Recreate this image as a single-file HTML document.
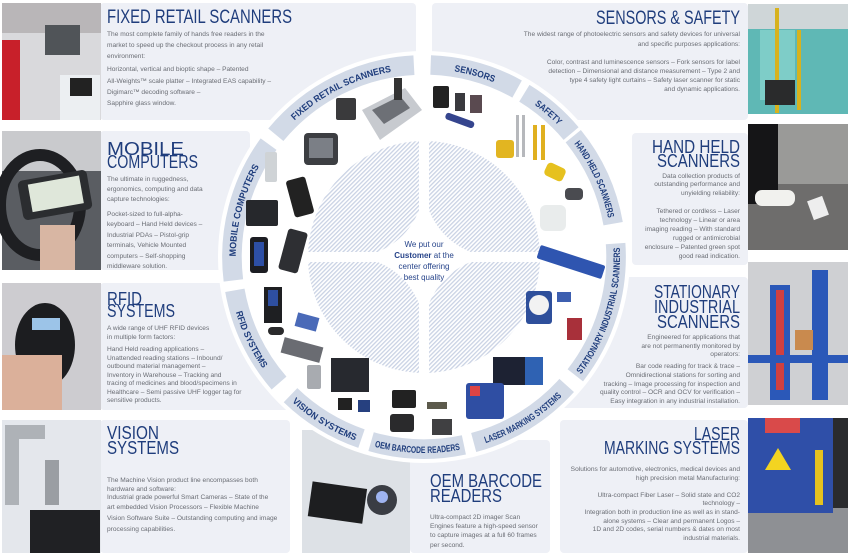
<!DOCTYPE html>
<html><head><meta charset="utf-8"><style>
html,body{margin:0;padding:0;background:#fff;}
svg{display:block;}
.t{font-family:"Liberation Sans",sans-serif;fill:#1f3d7c;}
.b{font-family:"Liberation Sans",sans-serif;fill:#6a6d74;font-size:6.6px;}
.bl{font-family:"Liberation Sans",sans-serif;fill:#1f3d7c;font-weight:bold;font-size:9.5px;}
</style></head><body>
<svg width="850" height="557" viewBox="0 0 850 557" xmlns="http://www.w3.org/2000/svg">
<defs>
<pattern id="h" width="3" height="3" patternUnits="userSpaceOnUse" patternTransform="rotate(45)">
<rect width="3" height="3" fill="#fff"/><rect width="1.3" height="3" fill="#c9d2e4"/></pattern>
<path id="p1" d="M233.4,280.4 A192,192 0 0 1 268.7,144.1"/>
<path id="p2" d="M275.9,134.9 A192,192 0 0 1 414.0,65.3"/>
<path id="p3" d="M430.7,65.1 A192,192 0 0 1 517.1,89.1"/>
<path id="p4" d="M524.3,93.3 A192,192 0 0 1 571.1,133.6"/>
<path id="p5" d="M573.2,136.2 A192,192 0 0 1 613.1,223.7"/>
<path id="p6" d="M581.6,380.1 A200,200 0 0 0 623.5,243.0"/>
<path id="p7" d="M475.8,450.2 A200,200 0 0 0 572.6,390.8"/>
<path id="p8" d="M368.9,449.3 A200,200 0 0 0 465.6,452.6"/>
<path id="p9" d="M285.1,400.9 A200,200 0 0 0 358.9,446.1"/>
<path id="p10" d="M227,291.7 A200,200 0 0 0 273.1,388.2"/>
</defs>

<g fill="#eef0f6">
<rect x="100" y="3" width="316" height="117" rx="4"/>
<rect x="432" y="3" width="316" height="117" rx="4"/>
<rect x="100" y="131" width="150" height="139" rx="4"/>
<rect x="632" y="133" width="116" height="132" rx="4"/>
<rect x="100" y="283" width="190" height="127" rx="4"/>
<rect x="560" y="277" width="188" height="131" rx="4"/>
<rect x="100" y="420" width="190" height="133" rx="4"/>
<rect x="410" y="440" width="140" height="113" rx="4"/>
<rect x="560" y="420" width="188" height="133" rx="4"/>
</g>

<rect x="2" y="3" width="99" height="117" fill="#d9d9dc"/>
<rect x="2" y="3" width="99" height="30" fill="#b9b6b8"/>
<rect x="2" y="40" width="18" height="80" fill="#c8202a"/>
<rect x="45" y="25" width="35" height="30" fill="#505458"/>
<rect x="60" y="75" width="40" height="45" fill="#eceff2"/>
<rect x="70" y="78" width="22" height="18" fill="#222"/>
<rect x="2" y="131" width="99" height="139" fill="#5a5d62"/>
<rect x="2" y="131" width="99" height="40" fill="#c9cacd"/>
<ellipse cx="40" cy="205" rx="40" ry="50" fill="none" stroke="#1e1f22" stroke-width="12"/>
<rect x="20" y="175" width="70" height="40" rx="5" fill="#2b2d30" transform="rotate(-10 55 195)"/>
<rect x="30" y="180" width="52" height="28" fill="#dfe7da" transform="rotate(-10 55 195)"/>
<rect x="40" y="225" width="35" height="45" fill="#d8b6a3"/>
<rect x="2" y="283" width="99" height="127" fill="#cdccd0"/>
<ellipse cx="45" cy="345" rx="30" ry="42" fill="#1c1d20"/>
<rect x="32" y="318" width="28" height="12" fill="#9cc4e8"/>
<rect x="2" y="355" width="60" height="55" fill="#dbb09a"/>
<rect x="2" y="420" width="99" height="133" fill="#e4e7ec"/>
<rect x="5" y="425" width="14" height="80" fill="#aeb2b7"/>
<rect x="5" y="425" width="40" height="14" fill="#aeb2b7"/>
<rect x="45" y="460" width="14" height="45" fill="#9a9ea3"/>
<rect x="30" y="510" width="70" height="43" fill="#202124"/>
<rect x="748" y="4" width="100" height="110" fill="#5fb8b5"/>
<rect x="748" y="4" width="100" height="25" fill="#cfd6d8"/>
<rect x="760" y="30" width="35" height="70" fill="#7ecdc8"/>
<rect x="775" y="8" width="4" height="105" fill="#d7b21e"/>
<rect x="797" y="30" width="4" height="80" fill="#d7b21e"/>
<rect x="765" y="80" width="30" height="25" fill="#2a2b2c"/>
<rect x="748" y="124" width="100" height="126" fill="#6e6d6c"/>
<rect x="748" y="124" width="100" height="60" fill="#9a9a98"/>
<rect x="748" y="124" width="30" height="80" fill="#151517"/>
<rect x="755" y="190" width="40" height="16" rx="7" fill="#f1f1ee"/>
<rect x="810" y="198" width="16" height="20" fill="#eee" transform="rotate(-20 818 208)"/>
<rect x="748" y="262" width="100" height="143" fill="#cfd0d3"/>
<rect x="770" y="285" width="20" height="115" fill="#2b58b8"/>
<rect x="776" y="290" width="8" height="100" fill="#d04040"/>
<rect x="812" y="270" width="16" height="130" fill="#2b58b8"/>
<rect x="748" y="355" width="100" height="8" fill="#2b58b8"/>
<rect x="795" y="330" width="18" height="20" fill="#c98a4e"/>
<rect x="748" y="418" width="100" height="135" fill="#8e9094"/>
<rect x="748" y="418" width="85" height="95" fill="#2f4fa8"/>
<rect x="833" y="418" width="15" height="90" fill="#2a2b2e"/>
<rect x="765" y="418" width="35" height="15" fill="#d94a4a"/>
<polygon points="765,470 778,448 791,470" fill="#f3d421"/>
<rect x="815" y="450" width="8" height="55" fill="#e6c21f"/>
<rect x="302" y="430" width="108" height="123" fill="#dde1e6"/>
<rect x="310" y="485" width="55" height="35" fill="#1d1e20" transform="rotate(8 337 502)"/>
<circle cx="382" cy="500" r="15" fill="#3a3d44"/>
<circle cx="382" cy="497" r="6" fill="#9fb4f0"/>

<circle cx="424" cy="257" r="206" fill="#fff"/>

<circle cx="424" cy="257" r="116" fill="url(#h)"/>
<g fill="#fff">
<rect x="419" y="135" width="10" height="244"/>
<rect x="302" y="252" width="244" height="10"/>
<path d="M424,195 Q436,245 486,257 Q436,269 424,319 Q412,269 362,257 Q412,245 424,195 Z"/>
<circle cx="424" cy="257" r="30"/>
</g>
<text x="424" y="247" text-anchor="middle" class="b" style="fill:#27448a;font-size:8px">We put our</text>
<text x="424" y="258" text-anchor="middle" class="b" style="fill:#27448a;font-size:8px"><tspan font-weight="bold">Customer</tspan> at the</text>
<text x="424" y="269" text-anchor="middle" class="b" style="fill:#27448a;font-size:8px">center offering</text>
<text x="424" y="280" text-anchor="middle" class="b" style="fill:#27448a;font-size:8px">best quality</text>

<g transform="translate(424 257) scale(0.98) translate(-424 -257)">
<g fill="none" stroke="#d2dae7" stroke-width="20">
<path d="M229.5,280.9 A196,196 0 0 1 265.4,141.8"/>
<path d="M272.8,132.3 A196,196 0 0 1 413.7,61.3"/>
<path d="M430.8,61.1 A196,196 0 0 1 519.0,85.6"/>
<path d="M526.4,89.9 A196,196 0 0 1 574.1,131.0"/>
<path d="M576.3,133.7 A196,196 0 0 1 617.0,223.0"/>
<path d="M619.5,243.3 A196,196 0 0 1 578.4,377.7"/>
<path d="M569.6,388.1 A196,196 0 0 1 474.7,446.3"/>
<path d="M464.7,448.7 A196,196 0 0 1 370.0,445.4"/>
<path d="M360.2,442.3 A196,196 0 0 1 287.8,398.0"/>
<path d="M276.1,385.6 A196,196 0 0 1 231.0,291.0"/>
</g>
<text class="bl"><textPath href="#p1" startOffset="50%" text-anchor="middle" textLength="96" lengthAdjust="spacingAndGlyphs">MOBILE COMPUTERS</textPath></text>
<text class="bl"><textPath href="#p2" startOffset="50%" text-anchor="middle" textLength="112" lengthAdjust="spacingAndGlyphs">FIXED RETAIL SCANNERS</textPath></text>
<text class="bl"><textPath href="#p3" startOffset="50%" text-anchor="middle" textLength="42" lengthAdjust="spacingAndGlyphs">SENSORS</textPath></text>
<text class="bl"><textPath href="#p4" startOffset="50%" text-anchor="middle" textLength="32" lengthAdjust="spacingAndGlyphs">SAFETY</textPath></text>
<text class="bl"><textPath href="#p5" startOffset="50%" text-anchor="middle" textLength="84" lengthAdjust="spacingAndGlyphs">HAND HELD SCANNERS</textPath></text>
<text class="bl"><textPath href="#p6" startOffset="50%" text-anchor="middle" textLength="138" lengthAdjust="spacingAndGlyphs">STATIONARY INDUSTRIAL SCANNERS</textPath></text>
<text class="bl"><textPath href="#p7" startOffset="50%" text-anchor="middle" textLength="92" lengthAdjust="spacingAndGlyphs">LASER MARKING SYSTEMS</textPath></text>
<text class="bl"><textPath href="#p8" startOffset="50%" text-anchor="middle" textLength="88" lengthAdjust="spacingAndGlyphs">OEM BARCODE READERS</textPath></text>
<text class="bl"><textPath href="#p9" startOffset="50%" text-anchor="middle" textLength="76" lengthAdjust="spacingAndGlyphs">VISION SYSTEMS</textPath></text>
<text class="bl"><textPath href="#p10" startOffset="50%" text-anchor="middle" textLength="64" lengthAdjust="spacingAndGlyphs">RFID SYSTEMS</textPath></text>
</g>

<rect x="304" y="133" width="34" height="32" rx="4" fill="#3c3e42"/>
<rect x="309" y="138" width="24" height="20" fill="#7b7f86"/>
<rect x="336" y="98" width="20" height="22" rx="2" fill="#3a3a3c"/>
<polygon points="362,110 405,88 422,110 380,140" fill="#c7cacf"/>
<polygon points="372,110 400,96 410,108 384,124" fill="#6d7076"/>
<rect x="394" y="78" width="8" height="22" fill="#333"/>
<rect x="265" y="152" width="12" height="30" rx="2" fill="#cfd3d6"/>
<rect x="290" y="178" width="20" height="38" rx="3" fill="#222" transform="rotate(-15 300 197)"/>
<rect x="246" y="200" width="32" height="26" rx="2" fill="#26282c"/>
<rect x="250" y="237" width="18" height="36" rx="3" fill="#1c1d22"/>
<rect x="254" y="242" width="10" height="24" fill="#2d4fa6"/>
<rect x="283" y="230" width="20" height="42" rx="3" fill="#2e2f33" transform="rotate(15 293 251)"/>
<rect x="433" y="86" width="16" height="22" rx="2" fill="#222"/>
<rect x="455" y="93" width="10" height="18" fill="#3a3a3e"/>
<rect x="470" y="95" width="12" height="18" fill="#5a4a50"/>
<rect x="445" y="117" width="30" height="7" rx="3" fill="#35458e" transform="rotate(20 460 120)"/>
<rect x="496" y="140" width="18" height="18" rx="3" fill="#e2b521"/>
<rect x="516" y="115" width="3" height="42" fill="#b6b8bc"/>
<rect x="522" y="115" width="3" height="42" fill="#b6b8bc"/>
<rect x="533" y="125" width="4" height="35" fill="#e0b020"/>
<rect x="541" y="125" width="4" height="35" fill="#e0b020"/>
<rect x="545" y="165" width="20" height="14" rx="4" fill="#e6c11f" transform="rotate(25 555 172)"/>
<rect x="565" y="188" width="18" height="12" rx="4" fill="#4a4b50"/>
<rect x="540" y="205" width="26" height="26" rx="6" fill="#e9ecec"/>
<rect x="537" y="255" width="68" height="14" rx="2" fill="#2f55b0" transform="rotate(18 571 262)"/>
<rect x="526" y="291" width="26" height="33" rx="3" fill="#2e4f9b"/>
<circle cx="539" cy="305" r="10" fill="#f2f2f2"/>
<rect x="567" y="318" width="15" height="22" fill="#a8303a"/>
<rect x="557" y="292" width="14" height="10" fill="#3d5fb0"/>
<rect x="493" y="357" width="48" height="28" fill="#1d2233"/>
<rect x="525" y="357" width="18" height="28" fill="#2f62b3"/>
<rect x="466" y="383" width="38" height="36" rx="3" fill="#2f4ea3"/>
<rect x="470" y="386" width="10" height="10" fill="#d44"/>
<rect x="392" y="390" width="24" height="18" rx="2" fill="#222"/>
<rect x="390" y="414" width="24" height="18" rx="3" fill="#2a2a2c"/>
<rect x="427" y="402" width="20" height="7" fill="#5c5a4c"/>
<rect x="432" y="419" width="20" height="16" fill="#404042"/>
<rect x="307" y="365" width="14" height="24" rx="2" fill="#a8abb0"/>
<rect x="331" y="358" width="38" height="34" fill="#27292f"/>
<rect x="338" y="398" width="14" height="12" fill="#222"/>
<rect x="358" y="400" width="12" height="12" fill="#26407f"/>
<rect x="264" y="287" width="18" height="36" fill="#1e1f22"/>
<rect x="268" y="290" width="10" height="16" fill="#2e4fa0"/>
<rect x="296" y="315" width="22" height="14" fill="#4a6ab8" transform="rotate(15 307 322)"/>
<rect x="268" y="327" width="16" height="8" rx="4" fill="#2a2a2c"/>
<rect x="282" y="342" width="40" height="16" fill="#6a6c72" transform="rotate(15 302 350)"/>

<text class="t" x="107" y="23" font-size="19" textLength="185" lengthAdjust="spacingAndGlyphs">FIXED RETAIL SCANNERS</text>
<text class="t" x="107" y="155" font-size="18" textLength="77" lengthAdjust="spacingAndGlyphs">MOBILE</text>
<text class="t" x="107" y="168" font-size="18" textLength="91" lengthAdjust="spacingAndGlyphs">COMPUTERS</text>
<text class="t" x="107" y="305" font-size="18" textLength="35" lengthAdjust="spacingAndGlyphs">RFID</text>
<text class="t" x="107" y="317" font-size="18" textLength="68" lengthAdjust="spacingAndGlyphs">SYSTEMS</text>
<text class="t" x="107" y="439" font-size="18" textLength="52" lengthAdjust="spacingAndGlyphs">VISION</text>
<text class="t" x="107" y="454" font-size="18" textLength="72" lengthAdjust="spacingAndGlyphs">SYSTEMS</text>
<text class="t" x="430" y="487" font-size="18" textLength="112" lengthAdjust="spacingAndGlyphs">OEM BARCODE</text>
<text class="t" x="430" y="502" font-size="18" textLength="72" lengthAdjust="spacingAndGlyphs">READERS</text>
<g text-anchor="end">
<text class="t" x="740" y="24" font-size="19" textLength="144" lengthAdjust="spacingAndGlyphs">SENSORS &amp; SAFETY</text>
<text class="t" x="740" y="153" font-size="18" textLength="88" lengthAdjust="spacingAndGlyphs">HAND HELD</text>
<text class="t" x="740" y="167" font-size="18" textLength="83" lengthAdjust="spacingAndGlyphs">SCANNERS</text>
<text class="t" x="740" y="298" font-size="18" textLength="86" lengthAdjust="spacingAndGlyphs">STATIONARY</text>
<text class="t" x="740" y="313" font-size="18" textLength="86" lengthAdjust="spacingAndGlyphs">INDUSTRIAL</text>
<text class="t" x="740" y="328" font-size="18" textLength="83" lengthAdjust="spacingAndGlyphs">SCANNERS</text>
<text class="t" x="740" y="440" font-size="18" textLength="46" lengthAdjust="spacingAndGlyphs">LASER</text>
<text class="t" x="740" y="454" font-size="18" textLength="136" lengthAdjust="spacingAndGlyphs">MARKING SYSTEMS</text>
</g>

<g class="b">
<text x="107" y="36">The most complete family of hands free readers in the</text>
<text x="107" y="47">market to speed up the checkout process in any retail</text>
<text x="107" y="58">environment:</text>
<text x="107" y="71">Horizontal, vertical and bioptic shape – Patented</text>
<text x="107" y="83">All-Weights™ scale platter – Integrated EAS capability –</text>
<text x="107" y="94">Digimarc™ decoding software –</text>
<text x="107" y="105">Sapphire glass window.</text>
<text x="107" y="181">The ultimate in ruggedness,</text>
<text x="107" y="191">ergonomics, computing and data</text>
<text x="107" y="201">capture technologies:</text>
<text x="107" y="216">Pocket-sized to full-alpha-</text>
<text x="107" y="226">keyboard – Hand Held devices –</text>
<text x="107" y="237">Industrial PDAs – Pistol-grip</text>
<text x="107" y="247">terminals, Vehicle Mounted</text>
<text x="107" y="258">computers – Self-shopping</text>
<text x="107" y="268">middleware solution.</text>
<text x="107" y="330">A wide range of UHF RFID devices</text>
<text x="107" y="339">in multiple form factors:</text>
<text x="107" y="351">Hand Held reading applications –</text>
<text x="107" y="360">Unattended reading stations – Inbound/</text>
<text x="107" y="368">outbound material management –</text>
<text x="107" y="377">Inventory in Warehouse – Tracking and</text>
<text x="107" y="385">tracing of medicines and blood/specimens in</text>
<text x="107" y="394">Healthcare – Semi passive UHF logger tag for</text>
<text x="107" y="402">sensitive products.</text>
<text x="107" y="482">The Machine Vision product line encompasses both</text>
<text x="107" y="491">hardware and software:</text>
<text x="107" y="499">Industrial grade powerful Smart Cameras – State of the</text>
<text x="107" y="509">art embedded Vision Processors – Flexible Machine</text>
<text x="107" y="520">Vision Software Suite – Outstanding computing and image</text>
<text x="107" y="531">processing capabilities.</text>
<text x="430" y="519">Ultra-compact 2D imager Scan</text>
<text x="430" y="528">Engines feature a high-speed sensor</text>
<text x="430" y="537">to capture images at a full 60 frames</text>
<text x="430" y="547">per second.</text>
</g>
<g class="b" text-anchor="end">
<text x="740" y="36">The widest range of photoelectric sensors and safety devices for universal</text>
<text x="740" y="46">and specific purposes applications:</text>
<text x="740" y="64">Color, contrast and luminescence sensors – Fork sensors for label</text>
<text x="740" y="73">detection – Dimensional and distance measurement – Type 2 and</text>
<text x="740" y="82">type 4 safety light curtains – Safety laser scanner for static</text>
<text x="740" y="91">and dynamic applications.</text>
<text x="740" y="178">Data collection products of</text>
<text x="740" y="186">outstanding performance  and</text>
<text x="740" y="195">unyielding reliability:</text>
<text x="740" y="213">Tethered or cordless – Laser</text>
<text x="740" y="222">technology – Linear or area</text>
<text x="740" y="231">imaging reading – With standard</text>
<text x="740" y="240">rugged or antimicrobial</text>
<text x="740" y="249">enclosure – Patented green spot</text>
<text x="740" y="258">good read indication.</text>
<text x="740" y="339">Engineered  for applications that</text>
<text x="740" y="348">are not permanently monitored by</text>
<text x="740" y="356">operators:</text>
<text x="740" y="368">Bar code reading for track &amp; trace –</text>
<text x="740" y="377">Omnidirectional stations for sorting and</text>
<text x="740" y="386">tracking – Image processing for inspection and</text>
<text x="740" y="394">quality control – OCR and OCV for verification –</text>
<text x="740" y="403">Easy integration in any industrial installation.</text>
<text x="740" y="471">Solutions for automotive, electronics, medical devices and</text>
<text x="740" y="480">high precision metal Manufacturing:</text>
<text x="740" y="497">Ultra-compact Fiber Laser – Solid state and CO2</text>
<text x="740" y="505">technology –</text>
<text x="740" y="514">Integration both in production line as well as in stand-</text>
<text x="740" y="523">alone systems – Clear and permanent Logos –</text>
<text x="740" y="531">1D and 2D codes, serial numbers &amp; dates on most</text>
<text x="740" y="540">industrial materials.</text>
</g>
</svg>
</body></html>
